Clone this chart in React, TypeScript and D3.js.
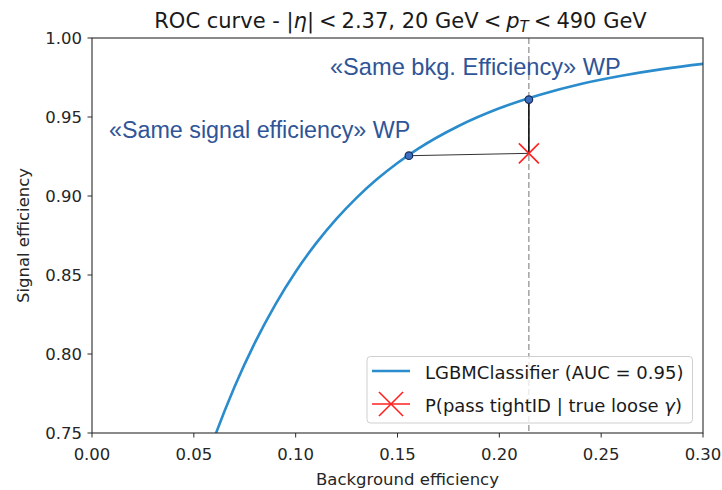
import React from "react";
import * as d3 from "d3";

const fpr = [0.055, 0.06, 0.07, 0.08, 0.09, 0.10, 0.11, 0.12, 0.13, 0.14, 0.15, 0.16, 0.18, 0.20, 0.22, 0.24, 0.26, 0.28, 0.30, 0.31];
const tpr = [0.7286, 0.7468, 0.7793, 0.8072, 0.8313, 0.8521, 0.8700, 0.8855, 0.8990, 0.9107, 0.9209, 0.9298, 0.9443, 0.9555, 0.9641, 0.9709, 0.9761, 0.9803, 0.9836, 0.985];
const xTicks = [0.0, 0.05, 0.1, 0.15, 0.2, 0.25, 0.3];
const yTicks = [0.75, 0.8, 0.85, 0.9, 0.95, 1.0];
const wpBkg = 0.2145;
const wpSig = 0.927;
const sameSigPoint = [0.1556, 0.9255];
const sameBkgPoint = [0.2145, 0.961];
const legendLabels = ["LGBMClassifier (AUC = 0.95)", "P(pass tightID | true loose "];

const W = 722, H = 490;
const L = 92, R = 703, T = 38, B = 433;

export default function App() {
  const x = d3.scaleLinear().domain([0, 0.3]).range([L, R]);
  const y = d3.scaleLinear().domain([0.75, 1.0]).range([B, T]);
  const line = d3.line<number>().x((_, i) => x(fpr[i])).y((_, i) => y(tpr[i])).curve(d3.curveMonotoneX);
  const path = line(fpr) || "";
  const font = "DejaVu Sans";
  const annot = "#2f5597";
  const cx = (L + R) / 2;
  const xs = x(wpBkg), ys = y(wpSig);
  const m = 10;
  const ml = 12;
  const red = "#ff2020";
  const blue = "#2a8ccc";
  const sp = 5;
  return (
    <svg width={W} height={H} style={{ position: "absolute", left: 0, top: 0, background: "#fff" }} fontFamily={font}>
      <defs>
        <clipPath id="plotclip"><rect x={L} y={T} width={R - L} height={B - T} /></clipPath>
      </defs>
      <rect x={0} y={0} width={W} height={H} fill="#fff" />
      {/* title */}
      <text x={cx + 3} y={28} textAnchor="middle" fontSize={21} fill="#1a1a1a">
        <tspan>ROC curve - |</tspan>
        <tspan fontStyle="italic">η</tspan>
        <tspan>|</tspan>
        <tspan dx={sp}>&lt;</tspan>
        <tspan dx={sp}>2.37, 20 GeV</tspan>
        <tspan dx={sp}>&lt;</tspan>
        <tspan dx={sp} fontStyle="italic">p</tspan>
        <tspan fontStyle="italic" fontSize={15} dy={4}>T</tspan>
        <tspan dy={-4} dx={sp}>&lt;</tspan>
        <tspan dx={sp}>490 GeV</tspan>
      </text>
      {/* dashed vertical */}
      <line x1={x(wpBkg)} x2={x(wpBkg)} y1={T} y2={B} stroke="#8c8c8c" strokeWidth={1.2} strokeDasharray="6,3" />
      {/* curve */}
      <g clipPath="url(#plotclip)">
        <path d={path} fill="none" stroke={blue} strokeWidth={2.6} />
      </g>
      {/* connector lines */}
      <line x1={x(sameSigPoint[0])} y1={y(sameSigPoint[1])} x2={xs} y2={ys} stroke="#333" strokeWidth={1} />
      <line x1={x(sameBkgPoint[0])} y1={y(sameBkgPoint[1])} x2={xs} y2={ys} stroke="#111" strokeWidth={1.6} />
      {/* red X marker */}
      <g stroke={red} strokeWidth={1.6}>
        <line x1={xs - m} y1={ys - m} x2={xs + m} y2={ys + m} />
        <line x1={xs - m} y1={ys + m} x2={xs + m} y2={ys - m} />
      </g>
      {/* WP dots */}
      <circle cx={x(sameSigPoint[0])} cy={y(sameSigPoint[1])} r={3.8} fill="#3b6fc2" stroke="#1b2b55" strokeWidth={1.2} />
      <circle cx={x(sameBkgPoint[0])} cy={y(sameBkgPoint[1])} r={3.8} fill="#3b6fc2" stroke="#1b2b55" strokeWidth={1.2} />
      {/* annotations */}
      <text x={330} y={75} fontFamily="Liberation Sans, Arial" fontSize={23.6} fill={annot}>«Same bkg. Efficiency» WP</text>
      <text x={109} y={138} fontFamily="Liberation Sans, Arial" fontSize={23.3} fill={annot}>«Same signal efficiency» WP</text>
      {/* legend */}
      <rect x={367} y={356.5} width={325.5} height={66.5} rx={3.5} fill="#fff" fillOpacity={0.8} stroke="#cfcfcf" strokeWidth={1} />
      <line x1={372} x2={410} y1={371} y2={371} stroke={blue} strokeWidth={2.6} />
      <line x1={372} x2={410} y1={404} y2={404} stroke={red} strokeWidth={1.6} />
      <g stroke={red} strokeWidth={1.6}>
        <line x1={391 - ml} y1={404 - ml} x2={391 + ml} y2={404 + ml} />
        <line x1={391 - ml} y1={404 + ml} x2={391 + ml} y2={404 - ml} />
      </g>
      <text x={425} y={379} fontSize={18} fill="#1a1a1a">{legendLabels[0]}</text>
      <text x={425} y={412} fontSize={18} fill="#1a1a1a">
        <tspan>{legendLabels[1]}</tspan>
        <tspan fontStyle="italic">γ</tspan>
        <tspan>)</tspan>
      </text>
      {/* axes frame */}
      <rect x={L} y={T} width={R - L} height={B - T} fill="none" stroke="#2a2a2a" strokeWidth={1.1} />
      {xTicks.map((t) => (
        <g key={"x" + t}>
          <line x1={x(t)} x2={x(t)} y1={B} y2={B + 4.5} stroke="#2a2a2a" />
          <text x={x(t)} y={460} textAnchor="middle" fontSize={16.5} fill="#262626">{t.toFixed(2)}</text>
        </g>
      ))}
      {yTicks.map((t) => (
        <g key={"y" + t}>
          <line x1={L - 4.5} x2={L} y1={y(t)} y2={y(t)} stroke="#2a2a2a" />
          <text x={L - 10} y={y(t) + 6} textAnchor="end" fontSize={16.5} fill="#262626">{t.toFixed(2)}</text>
        </g>
      ))}
      <text x={cx + 10} y={485} textAnchor="middle" fontSize={16.5} fill="#262626">Background efficiency</text>
      <text transform={`translate(29,${(T + B) / 2}) rotate(-90)`} textAnchor="middle" fontSize={16.5} fill="#262626">Signal efficiency</text>
    </svg>
  );
}
